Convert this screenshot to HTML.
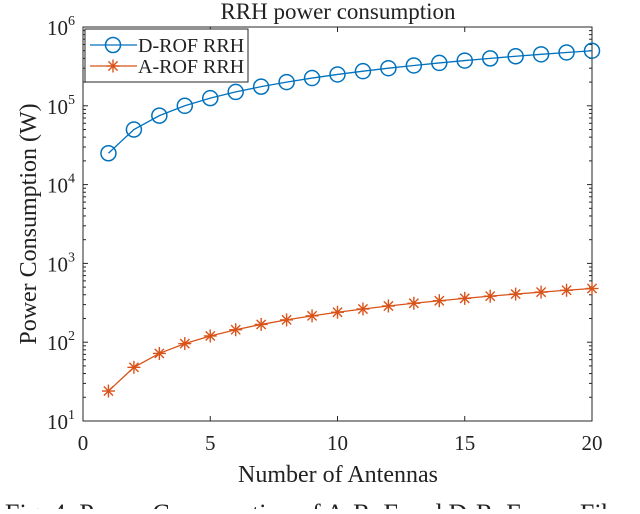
<!DOCTYPE html>
<html><head><meta charset="utf-8"><style>
body{margin:0;background:#fff;width:640px;height:509px;overflow:hidden}
svg text{font-family:"Liberation Serif",serif;fill:#222}
</style></head><body>
<svg id="c" width="640" height="509"></svg>
<script>
const xs=[1,2,3,4,5,6,7,8,9,10,11,12,13,14,15,16,17,18,19,20];
const dRof=[25000,50000,75000,100000,125000,150000,175000,200000,225000,250000,275000,300000,325000,350000,375000,400000,425000,450000,475000,500000];
const aRof=[24,48,72,96,120,144,168,192,216,240,264,288,312,336,360,384,408,432,456,480];
const xTicks=[0,5,10,15,20];
const yExps=[1,2,3,4,5,6];
const L=83,R=592,T=27,B=421;
const sx=v=>L+(v-0)/(20-0)*(R-L);
const sy=v=>B-(Math.log10(v)-1)/5*(B-T);
const svg=document.getElementById('c');
const NS='http://www.w3.org/2000/svg';
function mk(t,a,p){const e=document.createElementNS(NS,t);for(const k in a)e.setAttribute(k,a[k]);(p||svg).appendChild(e);return e;}
let t=mk('text',{x:338,y:19,'text-anchor':'middle','font-size':23});t.textContent='RRH power consumption';


let ax=mk('rect',{x:L,y:T,width:R-L,height:B-T,fill:'none',stroke:'#262626','stroke-width':1});


xTicks.forEach(v=>{const x=sx(v);
mk('line',{x1:x,x2:x,y1:B,y2:B-5,stroke:'#262626'});mk('line',{x1:x,x2:x,y1:T,y2:T+5,stroke:'#262626'});
const tx=mk('text',{x:x,y:B+29,'text-anchor':'middle','font-size':21});tx.textContent=v;

});
yExps.forEach(e=>{const y=sy(Math.pow(10,e));
mk('line',{x1:L,x2:L+5,y1:y,y2:y,stroke:'#262626'});mk('line',{x1:R,x2:R-5,y1:y,y2:y,stroke:'#262626'});
if(e<6)for(let m=2;m<10;m++){const yy=sy(m*Math.pow(10,e));mk('line',{x1:L,x2:L+3,y1:yy,y2:yy,stroke:'#262626'});mk('line',{x1:R,x2:R-3,y1:yy,y2:yy,stroke:'#262626'});}
const tx=mk('text',{x:L-8,y:y+8,'text-anchor':'end','font-size':21});tx.innerHTML='10<tspan dy="-10" font-size="14">'+e+'</tspan>';

});
let xl=mk('text',{x:338,y:482,'text-anchor':'middle','font-size':24});xl.textContent='Number of Antennas';


let yl=mk('text',{x:36,y:224,'text-anchor':'middle','font-size':24,transform:'rotate(-90 36 224)'});yl.textContent='Power Consumption (W)';


let cap=mk('text',{x:5,y:522,'font-size':26});cap.textContent='Fig. 4: Power Consumption of A-RoF and D-RoF over Fiber';


const blue='#0072BD',orange='#D95319';
let p1=mk('polyline',{points:xs.map((x,i)=>sx(x)+','+sy(dRof[i])).join(' '),fill:'none',stroke:blue,'stroke-width':1.3});


xs.forEach((x,i)=>{const c=mk('circle',{cx:sx(x),cy:sy(dRof[i]),r:7.5,fill:'none',stroke:blue,'stroke-width':1.5});

});
let p2=mk('polyline',{points:xs.map((x,i)=>sx(x)+','+sy(aRof[i])).join(' '),fill:'none',stroke:orange,'stroke-width':1.3});


function star(cx,cy,g){const r=6.5;for(let k=0;k<4;k++){const a=k*Math.PI/4;mk('line',{x1:cx-r*Math.cos(a),y1:cy-r*Math.sin(a),x2:cx+r*Math.cos(a),y2:cy+r*Math.sin(a),stroke:orange,'stroke-width':1.4},g);}}
xs.forEach((x,i)=>{const g=mk('g',{});


star(sx(x),sy(aRof[i]),g);});
const lg=mk('g',{});


mk('rect',{x:85,y:29,width:163,height:53,fill:'#fff',stroke:'#262626'},lg);
mk('line',{x1:90,x2:137,y1:45,y2:45,stroke:blue,'stroke-width':1.3},lg);
mk('circle',{cx:113,cy:45,r:7.5,fill:'none',stroke:blue,'stroke-width':1.5},lg);
mk('line',{x1:90,x2:137,y1:66,y2:66,stroke:orange,'stroke-width':1.3},lg);
star(113,66,lg);
let l1=mk('text',{x:138,y:52,'font-size':20},lg);l1.textContent='D-ROF RRH';


let l2=mk('text',{x:138,y:73,'font-size':20},lg);l2.textContent='A-ROF RRH';


</script>
</body></html>
